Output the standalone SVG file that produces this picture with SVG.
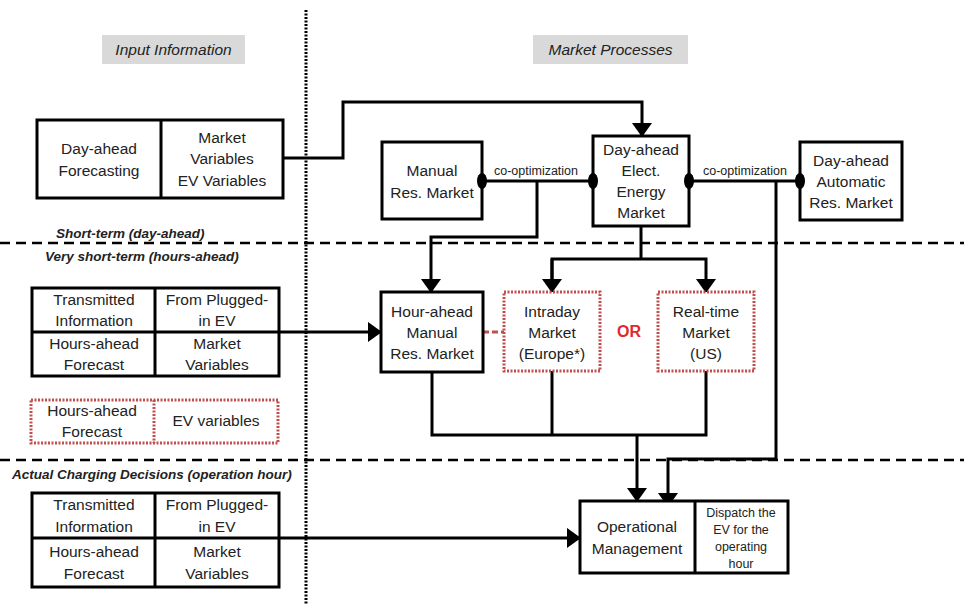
<svg xmlns="http://www.w3.org/2000/svg" width="964" height="604" viewBox="0 0 964 604">
<style>
text{font-family:"Liberation Sans",Arial,sans-serif;fill:#222;text-anchor:middle}
.t{font-size:15.5px}
.s{font-size:12.5px}
.co{font-size:12.5px}
.hdr{font-size:15.5px;font-style:italic}
.sec{font-size:13.5px;font-style:italic;font-weight:bold;text-anchor:start}
.box{fill:#fff;stroke:#000;stroke-width:3}
.rbox{fill:#fff;stroke:#c0504d;stroke-width:3;stroke-dasharray:2 1.5}
.ln{fill:none;stroke:#000;stroke-width:3}
.dash{stroke:#000;stroke-width:2.5;stroke-dasharray:10 6}
</style>
<defs>
<marker id="arr" markerWidth="5" markerHeight="7" refX="4.4" refY="3.4" orient="auto" markerUnits="strokeWidth"><path d="M0,0 L4.7,3.4 L0,6.8 Z" fill="#000"/></marker>
</defs>
<rect width="964" height="604" fill="#fff"/>
<g id="separators">
<line x1="306" y1="10" x2="306" y2="604" stroke="#000" stroke-width="3" stroke-dasharray="2 1.5"/>
<line x1="0" y1="243" x2="964" y2="243" class="dash"/>
<line x1="0" y1="460" x2="964" y2="460" class="dash"/>
</g>
<g id="headers">
<rect x="102" y="35" width="143" height="29" fill="#d9d9d9"/>
<text x="173.5" y="55" class="hdr">Input Information</text>
<rect x="533" y="35" width="155" height="29" fill="#d9d9d9"/>
<text x="610.5" y="55" class="hdr">Market Processes</text>
<text x="56" y="238" class="sec">Short-term (day-ahead)</text>
<text x="45" y="261" class="sec">Very short-term (hours-ahead)</text>
<text x="12" y="479" class="sec">Actual Charging Decisions (operation hour)</text>
</g>
<g id="connectors">
<polyline class="ln" points="283,158 343,158 343,102 642,102 642,136" marker-end="url(#arr)"/>
<line class="ln" x1="482" y1="181" x2="593" y2="181"/>
<line class="ln" x1="689" y1="181" x2="800" y2="181"/>
<polyline class="ln" points="537,181 537,237 431,237 431,292" marker-end="url(#arr)"/>
<polyline class="ln" points="641,226 641,259"/>
<polyline class="ln" points="552,292 552,259 706,259 706,292" marker-end="url(#arr)"/>
<line class="ln" x1="552" y1="259" x2="552" y2="292" marker-end="url(#arr)"/>
<polyline class="ln" points="776,181 776,459 668,459 668,506" marker-end="url(#arr)"/>
<line class="ln" x1="279" y1="332" x2="381" y2="332" marker-end="url(#arr)"/>
<line x1="483" y1="332" x2="504" y2="332" stroke="#c0504d" stroke-width="3" stroke-dasharray="6 3"/>
<polyline class="ln" points="432,372 432,435 706,435 706,371"/>
<line class="ln" x1="552" y1="371" x2="552" y2="435"/>
<line class="ln" x1="637" y1="435" x2="637" y2="501" marker-end="url(#arr)"/>
<line class="ln" x1="279" y1="538" x2="580" y2="538" marker-end="url(#arr)"/>
<text x="536" y="175" class="co">co-optimization</text>
<text x="745" y="175" class="co">co-optimization</text>
</g>
<g id="dayahead-forecasting">
<rect x="37" y="120" width="246" height="78" class="box"/>
<line x1="161" y1="120" x2="161" y2="198" stroke="#000" stroke-width="3"/>
<text class="t" x="99" y="154">Day-ahead</text>
<text class="t" x="99" y="176">Forecasting</text>
<text class="t" x="222" y="143">Market</text>
<text class="t" x="222" y="164">Variables</text>
<text class="t" x="222" y="186">EV Variables</text>
</g>
<g id="manual-res-market">
<rect x="382" y="142" width="100" height="77" class="box"/>
<text class="t" x="432" y="176">Manual</text>
<text class="t" x="432" y="198">Res. Market</text>
</g>
<g id="dayahead-energy-market">
<rect x="593" y="136" width="96" height="90" class="box"/>
<text class="t" x="641" y="155">Day-ahead</text>
<text class="t" x="641" y="176">Elect.</text>
<text class="t" x="641" y="197">Energy</text>
<text class="t" x="641" y="218">Market</text>
</g>
<g id="automatic-res-market">
<rect x="800" y="142" width="102" height="78" class="box"/>
<text class="t" x="851" y="166">Day-ahead</text>
<text class="t" x="851" y="187">Automatic</text>
<text class="t" x="851" y="208">Res. Market</text>
</g>
<g id="hour-ahead-market">
<rect x="381" y="292" width="102" height="80" class="box"/>
<text class="t" x="432" y="317">Hour-ahead</text>
<text class="t" x="432" y="338">Manual</text>
<text class="t" x="432" y="359">Res. Market</text>
</g>
<g id="intraday-market">
<rect x="504" y="292" width="96" height="79" class="rbox"/>
<text class="t" x="552" y="317">Intraday</text>
<text class="t" x="552" y="338">Market</text>
<text class="t" x="552" y="359">(Europe*)</text>
</g>
<text x="629" y="337" font-size="16" font-weight="bold" style="fill:#e0282e">OR</text>
<g id="realtime-market">
<rect x="658" y="292" width="96" height="79" class="rbox"/>
<text class="t" x="706" y="317">Real-time</text>
<text class="t" x="706" y="338">Market</text>
<text class="t" x="706" y="359">(US)</text>
</g>
<g id="hours-ahead-inputs">
<rect x="32" y="288" width="247" height="88" class="box"/>
<line x1="155" y1="288" x2="155" y2="376" stroke="#000" stroke-width="3"/>
<line x1="32" y1="332" x2="279" y2="332" stroke="#000" stroke-width="3"/>
<text class="t" x="94" y="305">Transmitted</text>
<text class="t" x="94" y="326">Information</text>
<text class="t" x="217" y="305">From Plugged-</text>
<text class="t" x="217" y="326">in EV</text>
<text class="t" x="94" y="349">Hours-ahead</text>
<text class="t" x="94" y="370">Forecast</text>
<text class="t" x="217" y="349">Market</text>
<text class="t" x="217" y="370">Variables</text>
</g>
<g id="ev-variables">
<rect x="31" y="400" width="247" height="43" class="rbox"/>
<line x1="154" y1="400" x2="154" y2="443" stroke="#c0504d" stroke-width="3" stroke-dasharray="2 1.5"/>
<text class="t" x="92" y="416">Hours-ahead</text>
<text class="t" x="92" y="437">Forecast</text>
<text class="t" x="216" y="426">EV variables</text>
</g>
<g id="operation-inputs">
<rect x="32" y="493" width="247" height="94" class="box"/>
<line x1="155" y1="493" x2="155" y2="587" stroke="#000" stroke-width="3"/>
<line x1="32" y1="538" x2="279" y2="538" stroke="#000" stroke-width="3"/>
<text class="t" x="94" y="510">Transmitted</text>
<text class="t" x="94" y="532">Information</text>
<text class="t" x="217" y="510">From Plugged-</text>
<text class="t" x="217" y="532">in EV</text>
<text class="t" x="94" y="557">Hours-ahead</text>
<text class="t" x="94" y="579">Forecast</text>
<text class="t" x="217" y="557">Market</text>
<text class="t" x="217" y="579">Variables</text>
</g>
<g id="operational-management">
<rect x="580" y="501" width="208" height="72" class="box"/>
<line x1="695" y1="501" x2="695" y2="573" stroke="#000" stroke-width="3"/>
<text class="t" x="637" y="532">Operational</text>
<text class="t" x="637" y="554">Management</text>
<text class="s" x="741" y="517">Dispatch the</text>
<text class="s" x="741" y="534">EV for the</text>
<text class="s" x="741" y="551">operating</text>
<text class="s" x="741" y="568">hour</text>
</g>
<g id="co-optimization-dots">
<ellipse cx="482" cy="181" rx="5" ry="8" fill="#000"/>
<ellipse cx="593" cy="181" rx="5" ry="8" fill="#000"/>
<ellipse cx="689" cy="181" rx="5" ry="8" fill="#000"/>
<ellipse cx="800" cy="181" rx="5" ry="8" fill="#000"/>
</g>
</svg>
